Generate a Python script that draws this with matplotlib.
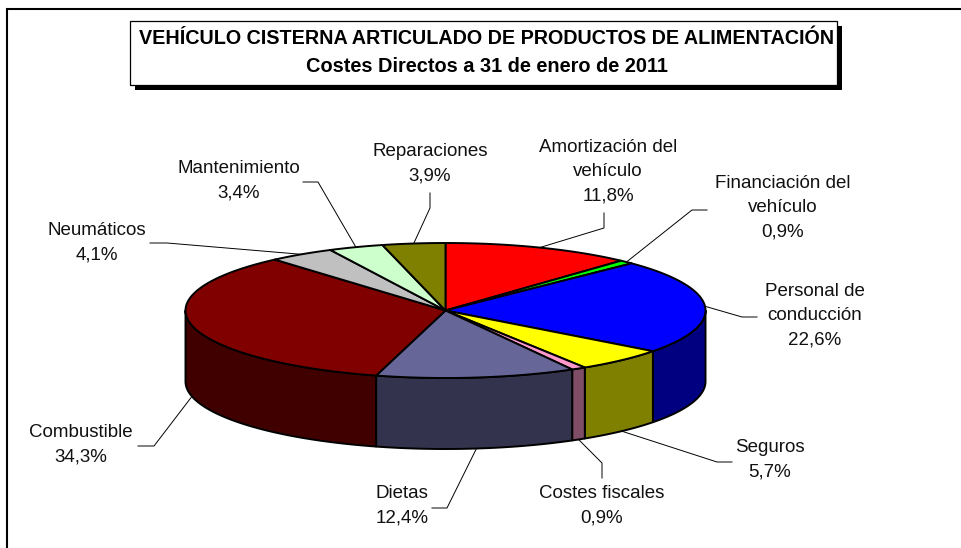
#!/usr/bin/env python3
"""3D-look cost pie for the articulated food tanker vehicle."""

import numpy as np
import matplotlib

matplotlib.use("Agg")
import matplotlib.pyplot as plt
from matplotlib.patches import Polygon, Rectangle

# Data, clockwise from 12 o'clock
categories = [
    "Amortización del\nvehículo",
    "Financiación del\nvehículo",
    "Personal de\nconducción",
    "Seguros",
    "Costes fiscales",
    "Dietas",
    "Combustible",
    "Neumáticos",
    "Mantenimiento",
    "Reparaciones",
]
values = [11.8, 0.9, 22.6, 5.7, 0.9, 12.4, 34.3, 4.1, 3.4, 3.9]
top_colors = [
    "#FF0000", "#00FF00", "#0000FF", "#FFFF00", "#FF99CC",
    "#666699", "#800000", "#C0C0C0", "#CCFFCC", "#808000",
]
title_lines = [
    "VEHÍCULO CISTERNA ARTICULADO DE PRODUCTOS DE ALIMENTACIÓN",
    "Costes Directos a 31 de enero de 2011",
]

# Layout in image pixels
CX, CY = 445.5, 310.5
RX, RY = 260.0, 67.5
DEPTH = 71.0
FONT = "Liberation Sans"
LABEL_SIZE = 13.5

label_pos = [
    (608, 172), (783, 208), (815, 316), (770, 460), (602, 506),
    (402, 506), (81, 445), (97, 243), (239, 181), (430, 164),
]
# label end of each leader: free end, then elbow
leader_ends = [
    ((604, 213), (604, 228)), ((707, 210), (692, 210)), ((757, 317), (742, 317)),
    ((732, 462), (717, 462)), ((602, 478), (602, 463)), ((432, 508), (447, 508)),
    ((138, 446), (154, 446)), ((150, 243), (167, 243)), ((303, 182), (318, 182)),
    ((430, 193), (430, 208)),
]


def rim(theta_deg, drop=0.0):
    """Points on the ellipse, angle clockwise from the top."""
    t = np.radians(theta_deg)
    return np.column_stack([CX + RX * np.sin(t), CY - RY * np.cos(t) + drop])


def darker(color):
    r, g, b = matplotlib.colors.to_rgb(color)
    return (r / 2, g / 2, b / 2)


fig = plt.figure(figsize=(9.62, 5.48), dpi=100)
ax = fig.add_axes([0, 0, 1, 1])
ax.set_xlim(0, 962)
ax.set_ylim(548, 0)
ax.axis("off")

# outer chart frame, cropped at the top and left
ax.plot([7.5, 7.5, 962], [548, 9, 9], color="black", lw=1.5, solid_joinstyle="miter")

# title box with hard shadow
ax.add_patch(Rectangle((135, 26), 707, 64, facecolor="black", edgecolor="black", lw=0))
ax.add_patch(Rectangle((130, 21), 707, 64, facecolor="white", edgecolor="black", lw=0.9))
ax.text(487, 39, title_lines[0], family=FONT, weight="bold", fontsize=14.2,
        ha="center", va="center", color="black")
ax.text(487, 66, title_lines[1], family=FONT, weight="bold", fontsize=14.4,
        ha="center", va="center", color="black")

edges = np.cumsum([0] + values) / sum(values) * 360.0

# walls first: only the part of the rim facing the viewer
for i, color in enumerate(top_colors):
    start = max(edges[i], 90.0)
    end = min(edges[i + 1], 270.0)
    if end <= start:
        continue
    th = np.linspace(start, end, 80)
    pts = np.vstack([rim(th), rim(th[::-1], DEPTH)])
    ax.add_patch(Polygon(pts, closed=True, facecolor=darker(color), edgecolor="black",
                         lw=1.4, joinstyle="round"))

# then the top faces
for i, color in enumerate(top_colors):
    th = np.linspace(edges[i], edges[i + 1], 100)
    pts = np.vstack([[CX, CY], rim(th)])
    ax.add_patch(Polygon(pts, closed=True, facecolor=color, edgecolor="black",
                         lw=1.4, joinstyle="round"))

# labels and leaders
for i, name in enumerate(categories):
    pct = f"{values[i]:.1f}%".replace(".", ",")
    x, y = label_pos[i]
    ax.text(x, y, f"{name}\n{pct}", family=FONT, fontsize=LABEL_SIZE, ha="center",
            va="center", ma="center", linespacing=1.57, color="#111111")

    mid = (edges[i] + edges[i + 1]) / 2
    drop = DEPTH if 90 < mid < 270 else 0.0
    anchor = rim(np.array([mid]), drop)[0]
    free, elbow = leader_ends[i]
    ax.plot([free[0], elbow[0], anchor[0]], [free[1], elbow[1], anchor[1]],
            color="black", lw=0.7, zorder=1 if drop else 3)

fig.savefig("out.png", dpi=100)
